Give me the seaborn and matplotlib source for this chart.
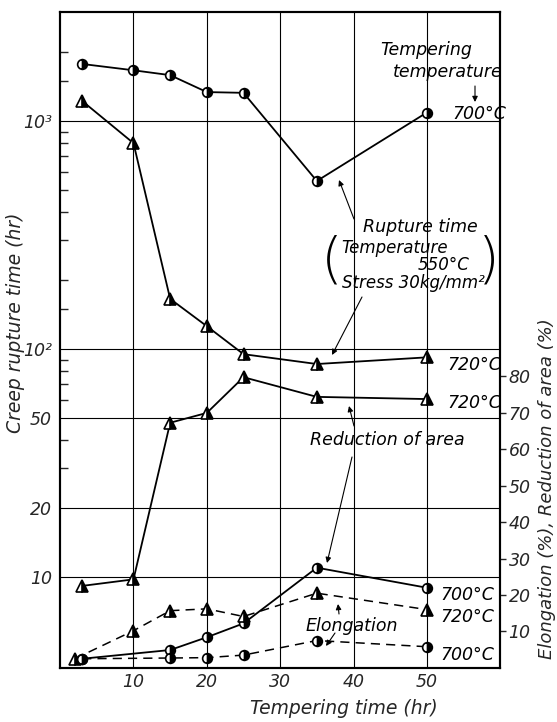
import matplotlib
matplotlib.use("Agg")
from matplotlib import pyplot as plt
from matplotlib.ticker import FixedLocator, NullFormatter
import seaborn as sns

sns.set_theme(style='white')
plt.rcParams['font.family'] = ['DejaVu Sans']
plt.rcParams['font.style'] = 'italic'

#### data

# tempering time (hr)
temper_time = [3, 10, 15, 20, 25, 35, 50]
temper_time_el720 = [2, 10, 15, 20, 25, 35, 50]
temper_time_700 = [3, 15, 20, 25, 35, 50]   # no 10 hr point for 700C elong / RA

# creep rupture time (hr) - left log axis
rupture_700 = [1780, 1670, 1590, 1340, 1330, 546, 1090]
rupture_720 = [1225, 800, 166, 126, 95, 86, 92]

# reduction of area (%) - right axis
ra_720 = [22.5, 24.3, 67.3, 70.0, 79.8, 74.4, 73.8]
ra_700 = [2.5, 4.9, 8.4, 12.2, 27.5, 22.0]

# elongation (%) - right axis
el_720 = [2.5, 10.2, 15.7, 16.2, 14.1, 20.5, 16.0]
el_700 = [2.5, 2.7, 2.8, 3.5, 7.5, 5.8]

# axis ticks
x_ticks = [10, 20, 30, 40, 50]
left_ticks = [10, 20, 50, 100, 1000]
left_labels = ['10', '20', '50', '10²', '10³']
left_minor = [30, 40, 60, 70, 80, 90, 150, 200, 300, 400, 500, 600, 700, 800, 900, 1500, 2000]
right_ticks = [10, 20, 30, 40, 50, 60, 70, 80]

W, H = 557, 722
fig = plt.figure(figsize=(W / 100, H / 100), dpi=100)
ax = fig.add_axes([0.108, 0.075, 0.79, 0.908])
ax.set_yscale('log')
ax2 = ax.twinx()

circle = dict(marker='o', markersize=7, fillstyle='right', markerfacecolor='black',
              markerfacecoloralt='white', markeredgecolor='black', markeredgewidth=1.2)
triangle = dict(marker='^', markersize=8, fillstyle='right', markerfacecolor='black',
                markerfacecoloralt='white', markeredgecolor='black', markeredgewidth=1.2)

# rupture time (left axis)
sns.lineplot(x=temper_time, y=rupture_700, ax=ax, color='black', lw=1.3, sort=False, **circle)
sns.lineplot(x=temper_time, y=rupture_720, ax=ax, color='black', lw=1.3, sort=False, **triangle)

# reduction of area / elongation (right axis)
sns.lineplot(x=temper_time, y=ra_720, ax=ax2, color='black', lw=1.3, sort=False, **triangle)
sns.lineplot(x=temper_time_700, y=ra_700, ax=ax2, color='black', lw=1.3, sort=False, **circle)
sns.lineplot(x=temper_time_el720, y=el_720, ax=ax2, color='black', lw=1.1, sort=False,
             dashes=False, linestyle=(0, (6, 4)), **triangle)
sns.lineplot(x=temper_time_700, y=el_700, ax=ax2, color='black', lw=1.1, sort=False,
             dashes=False, linestyle=(0, (6, 4)), **circle)

# axes setup
ax.set_xlim(0, 60)
ax.set_ylim(4, 3000)
ax2.set_ylim(0, 180)

ax.set_xticks(x_ticks)
ax.set_xticklabels([str(t) for t in x_ticks])
ax.set_yticks(left_ticks)
ax.set_yticklabels(left_labels)
ax.yaxis.set_minor_locator(FixedLocator(left_minor))
ax.yaxis.set_minor_formatter(NullFormatter())
ax.tick_params(axis='x', which='both', length=0, labelsize=12.5, pad=4)
ax.tick_params(axis='y', which='major', length=0, labelsize=12.5, pad=6, left=True)
ax.tick_params(axis='y', which='minor', length=6, width=1, direction='in', left=True)
ax.grid(True, which='major', axis='both', color='black', lw=0.8)

ax2.set_yticks(right_ticks)
ax2.set_yticklabels([str(t) for t in right_ticks])
ax2.tick_params(axis='y', length=4, width=1, direction='out', labelsize=12.5, pad=2, right=True)
ax2.grid(False)

for a in (ax, ax2):
    for s in a.spines.values():
        s.set_color('black')
        s.set_linewidth(1.5)

ax.set_ylabel('Creep rupture time (hr)', fontsize=13.5)
ax.yaxis.set_label_coords(-0.08, 0.526)
ax2.set_ylabel('Elongation (%), Reduction of area (%)', fontsize=13, rotation=90)
ax2.yaxis.set_label_coords(1.087, 0.273)
ax.set_xlabel('Tempering time (hr)', fontsize=13.5)
ax.xaxis.set_label_coords(0.645, -0.048)


# annotations in figure pixel positions (from top-left)
def fxy(px, py):
    return px / W, 1 - py / H


def label(px, py, s, ha='left', size=12.5, **kw):
    fig.text(*fxy(px, py), s, ha=ha, va='center', fontsize=size, color='black', **kw)


def arrow(x0, y0, x1, y1):
    ax.annotate('', xy=fxy(x1, y1), xytext=fxy(x0, y0),
                xycoords='figure fraction', textcoords='figure fraction',
                arrowprops=dict(arrowstyle='-|>', color='black', lw=0.8,
                                mutation_scale=8, shrinkA=0, shrinkB=0))


label(380, 50, 'Tempering')
label(503, 72, 'temperature', ha='right')
arrow(475, 86, 475, 102)
label(452, 114, '700°C')

label(363, 227, 'Rupture time')
label(341, 248, 'Temperature', size=12)
label(470, 265, '550°C', ha='right', size=12)
label(342, 283, 'Stress 30kg/mm²', size=12)
label(332, 262, '(', ha='center', size=40, fontstyle='normal', fontweight='light')
label(489, 262, ')', ha='center', size=40, fontstyle='normal', fontweight='light')
arrow(354, 219, 339, 180)
arrow(362, 297, 332, 355)

label(447, 365, '720°C')
label(447, 403, '720°C')
label(310, 440, 'Reduction of area')
arrow(354, 426, 349, 406)
arrow(352, 457, 327, 563)

label(440, 595, '700°C')
label(440, 617, '720°C')
label(306, 626, 'Elongation')
arrow(339, 614, 338, 604)
arrow(335, 633, 326, 646)
label(440, 655, '700°C')

fig.savefig('out.png', dpi=100)
